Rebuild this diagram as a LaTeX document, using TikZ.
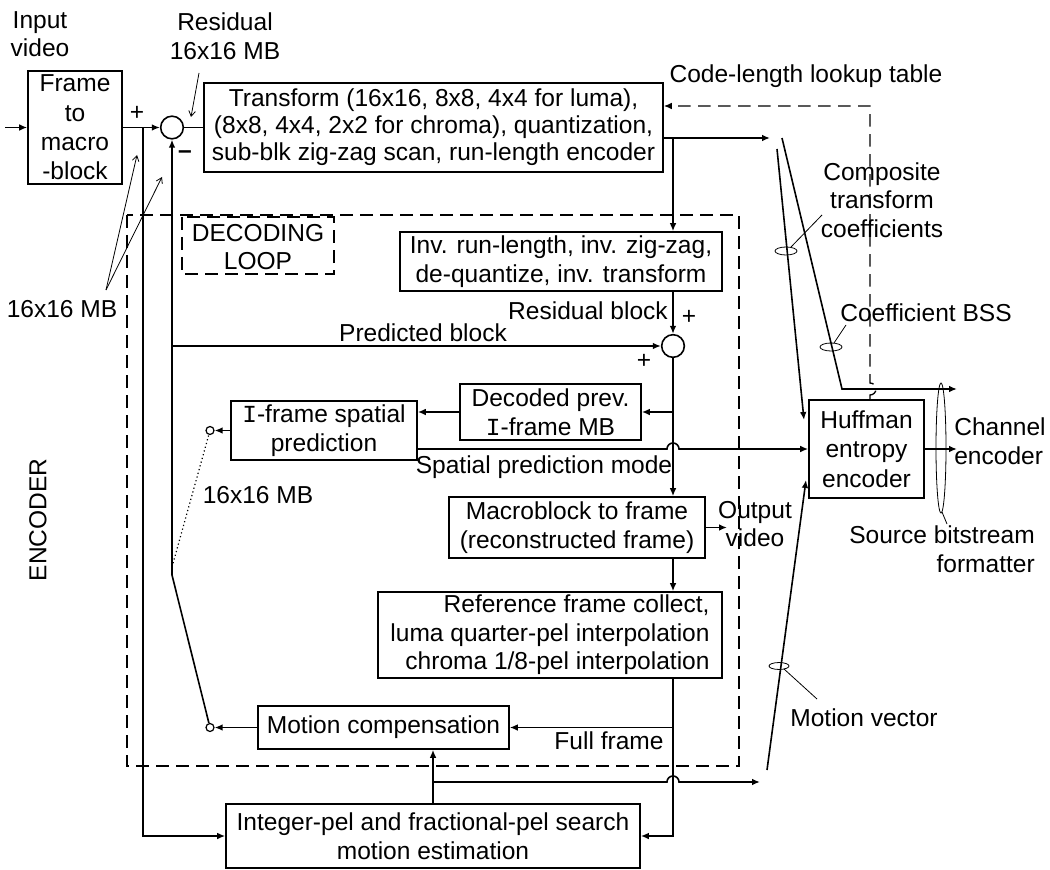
\documentclass[tikz,border=0pt]{standalone}
\usepackage{fontspec}
\setmainfont{Liberation Sans}
\setmonofont{Liberation Mono}
\usetikzlibrary{arrows.meta}
\begin{document}
\begin{tikzpicture}[x=0.75pt,y=-0.75pt,
  every node/.style={font=\fontsize{18.4}{21.4}\selectfont},
  line/.style={line width=1.2pt},
  arr/.style={line width=1.2pt,-{Latex[length=6pt,width=5pt]}},
  thinline/.style={line width=0.6pt},
  ptr/.style={line width=0.6pt,-{Straight Barb[length=4pt,width=5pt]}},
  blk/.style={draw,line width=1.2pt,inner sep=0pt,align=center},
  sz/.style 2 args={minimum width=#1*0.75pt,minimum height=#2*0.75pt},
  wide/.style={font=\fontsize{18.4}{22}\selectfont},
  tight/.style={font=\fontsize{18.4}{20.3}\selectfont},
  sum/.style={draw,line width=1.2pt,circle,inner sep=0pt,minimum size=17pt},
  contact/.style={draw,line width=0.9pt,circle,inner sep=0pt,minimum size=6pt},
  loopline/.style={line width=1pt,dash pattern=on 9.5pt off 5.5pt},
  lbl/.style={inner sep=0pt,align=center},
]
\useasboundingbox (0,0) rectangle (1050,870);

% ---- processing blocks ----
\node[blk,wide,sz={94}{113}] (fm) at (75,127.5) {Frame\\to\\macro\\-block};
\node[blk,tight,sz={459}{89}] (tr) at (433.5,127.5)
  {Transform (16x16, 8x8, 4x4 for luma),\\(8x8, 4x4, 2x2 for chroma), quantization,\\sub-blk zig-zag scan, run-length encoder};
\node[blk,sz={322}{59}] (inv) at (561,261.5) {Inv. run-length, inv. zig-zag,\\de-quantize, inv. transform};
\node[blk,sz={181}{56}] (dec) at (550.5,412) {Decoded prev.\\\texttt{I}-frame MB};
\node[blk,sz={186}{59}] (ifr) at (324,430.5) {\texttt{I}-frame spatial\\prediction};
\node[blk,sz={256}{61}] (mb) at (577,527.5) {Macroblock to frame\\(reconstructed frame)};
\node[blk,sz={344}{86},align=right] (ref) at (550,635) {Reference frame collect,\\luma quarter-pel interpolation\\chroma 1/8-pel interpolation};
\node[blk,sz={251}{43}] (mc) at (383.5,727.5) {Motion compensation};
\node[blk,sz={414}{64}] (me) at (433,836) {Integer-pel and fractional-pel search\\motion estimation};
\node[blk,wide,sz={115}{98}] (hf) at (866.5,449) {Huffman\\entropy\\encoder};

% ---- adders and switch contacts ----
\node[sum] (s1) at (172,127.5) {};
\node[sum] (s2) at (673,346) {};
\node[contact] (cI) at (210,430.5) {};
\node[contact] (cM) at (210,727.5) {};

% ---- decoding loop frames ----
\draw[loopline] (127,215) rectangle (739,766);
\draw[loopline] (182,217) rectangle (334,274);
\node[lbl] at (258,247) {DECODING\\LOOP};

% ---- helper points ----
\coordinate (in) at (5,127.5);
\coordinate (j1) at (143,127.5);
\coordinate (sw) at (172,575);
\coordinate (swd) at (172,567);
\coordinate (pb) at (172,346);
\coordinate (j2) at (673,138);
\coordinate (coefEnd) at (770,138);
\coordinate (spL) at (417,449);
\coordinate (outV) at (727,527.5);
\coordinate (ff) at (673,727.5);
\coordinate (j4) at (433,782);
\coordinate (mvEnd) at (760,782);
\coordinate (mvA) at (767,770);
\coordinate (mvB) at (806,480);
\coordinate (ctA) at (777,149);
\coordinate (ctB) at (804,420);
\coordinate (bsA) at (782,138);
\coordinate (bsB) at (842,389);
\coordinate (bsC) at (957,389);
\coordinate (hfOut) at (957,449);
\coordinate (fbTop) at (870,106);
\coordinate (fbBot) at (870,400);

% ---- forward path ----
\draw[arr] (in) -- (fm.west);
\draw[arr] (fm.east) -- (s1.west);
\draw[line] (s1.east) -- (tr.west);
\draw[arr] (j1) |- (me.west);
\draw[arr] (tr.east |- j2) -- (coefEnd);
\draw[arr] (j2) -- (j2 |- inv.north);

% ---- decoding loop ----
\draw[arr] (s2 |- inv.south) -- (s2.north);
\draw[arr] (pb) -- (s2.west);
\draw[arr] (s2.south) -- (s2 |- mb.north);
\draw[arr] (s2 |- dec.east) -- (dec.east);
\draw[arr] (dec.west) -- (ifr.east |- dec.west);
\draw[arr] (ifr.west) -- (cI);
\draw[arr] (mb.east) -- (outV);
\draw[arr] (s2 |- mb.south) -- (s2 |- ref.north);
\draw[arr] (s2 |- ref.south) |- (me.east);
\draw[arr] (ff) -- (mc.east);
\draw[arr] (mc.west) -- (cM);
\draw[arr] (j4 |- me.north) -- (j4 |- mc.south);

% switch back to the subtractor
\draw[arr] (sw) -- (s1.south);
\draw[line] (sw) -- (cM);
\draw[line width=0.9pt,dotted] (swd) -- (cI);

% spatial prediction mode and motion vectors, hopping over the loop line
\draw[arr] (spL) -- (667,449) arc (180:0:4.5pt) -- (hf.west);
\draw[arr] (j4) -- (667,782) arc (180:0:4.5pt) -- (mvEnd);

% ---- entropy coder side ----
\draw[arr] (mvA) -- (mvB);
\draw[arr] (ctA) -- (ctB);
\draw[arr] (bsA) -- (bsB) -- (bsC);
\draw[arr] (hf.east) -- (hfOut);
\draw[loopline,-{Latex[length=6pt,width=5pt]}] (fbBot) -- (870,395) arc (-90:90:4.5pt) -- (fbTop) -- (tr.east |- fbTop);

% ---- bundle markers ----
\draw[thinline] (786,251) ellipse (8.25pt and 3pt);
\draw[thinline] (831,347) ellipse (8.25pt and 3pt);
\draw[thinline] (779,666) ellipse (7.5pt and 2.6pt);
\draw[thinline] (941,448) ellipse (3.75pt and 48.75pt);
\draw[thinline] (791,247) -- (822,215);
\draw[thinline] (834,343) -- (846,325);
\draw[thinline] (784,669) -- (817,699);
\draw[thinline] (942,512) -- (947,524);

% ---- pointer arrows ----
\coordinate (mbTag) at (106,290);
\draw[ptr] (199,73) -- (191,117);
\draw[ptr] (mbTag) -- (137,155);
\draw[ptr] (mbTag) -- (162,177);

% ---- labels ----
\node[lbl] at (40,34) {Input\\video};
\node[lbl] at (225,36) {Residual\\16x16 MB};
\node[lbl] at (137,113) {+};
\node[lbl] at (185,155) {\textbf{--}};
\node[lbl] at (689,317) {+};
\node[lbl] at (644,361) {+};
\node[lbl,anchor=east] at (668,311) {Residual block};
\node[lbl] at (423,333) {Predicted block};
\node[lbl] at (806,76) {Code-length lookup table};
\node[lbl] at (882,200) {Composite\\transform\\coefficients};
\node[lbl] at (926,313) {Coefficient BSS};
\node[lbl,align=left] at (1000,441) {Channel\\encoder};
\node[lbl,anchor=east,align=right] at (1035,549) {Source bitstream\\formatter};
\node[lbl] at (755,524) {Output\\video};
\node[lbl] at (609,741) {Full frame};
\node[lbl] at (864,718) {Motion vector};
\node[lbl] at (544,467) {Spatial prediction mode};
\node[lbl] at (258,495) {16x16 MB};
\node[lbl] at (62,309) {16x16 MB};
\node[lbl,rotate=90] at (38,520) {ENCODER};
\end{tikzpicture}
\end{document}
